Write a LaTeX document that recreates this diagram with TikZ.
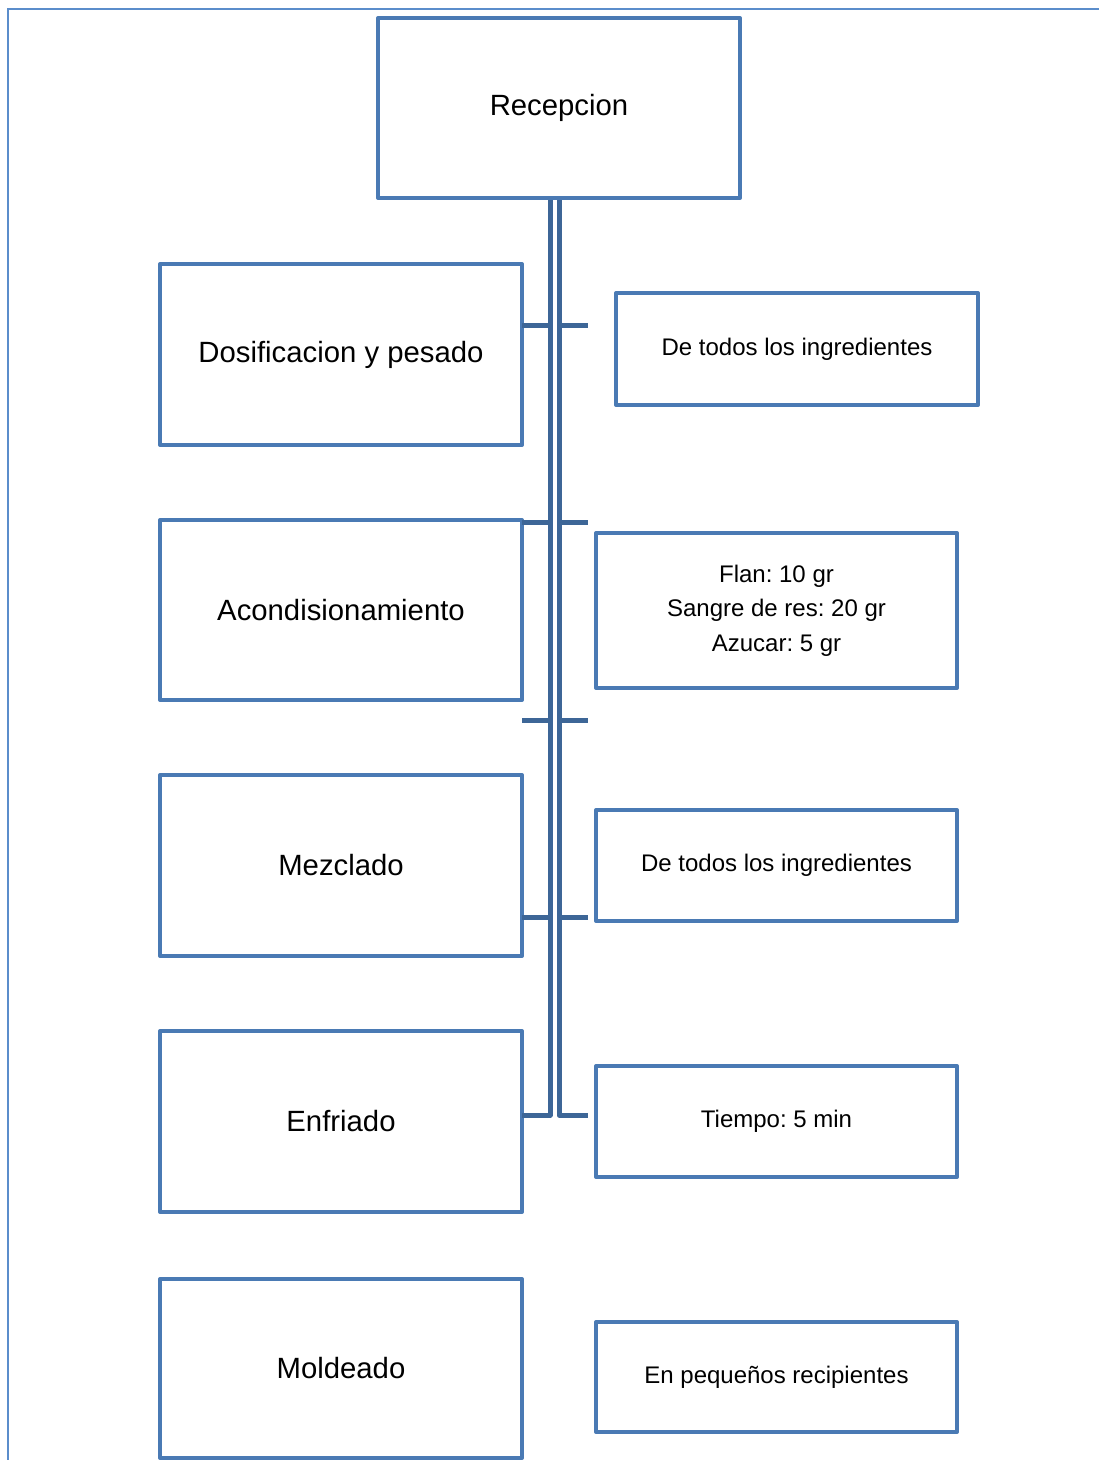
\documentclass[tikz,border=0pt]{standalone}
\usepackage{fontspec}
\setmainfont{Liberation Sans}
\usetikzlibrary{positioning,calc}
\definecolor{boxblue}{HTML}{4A7AB4}
\definecolor{lineblue}{HTML}{3D6697}
\definecolor{frameblue}{HTML}{5B8DCB}
\frenchspacing

\begin{document}
\begin{tikzpicture}[x=1pt, y=-1pt,
  stepbox/.style={draw=boxblue, line width=4pt, line join=round, inner sep=0pt,
    minimum width=362pt, minimum height=181pt, font=\fontsize{29.3}{35}\selectfont},
  notebox/.style={draw=boxblue, line width=4pt, line join=round, inner sep=0pt,
    minimum width=361pt, minimum height=111pt, align=center, font=\fontsize{24}{34.5}\selectfont},
  link/.style={draw=lineblue, line width=5pt, line join=round}]
  \useasboundingbox (0,0) rectangle (1099,1460);
  \draw[frameblue, line width=2pt] (8,1460) -- (8,9) -- (1099,9);

  % process steps
  \node[stepbox, minimum height=180pt] (rec) at (559,108) {Recepcion};
  \node[stepbox] (dos) at (341,354.5) {Dosificacion y pesado};
  \node[stepbox, minimum height=180pt] (aco) at (341,610) {Acondisionamiento};
  \node[stepbox] (mez) at (341,865.5) {Mezclado};
  \node[stepbox] (enf) at (341,1121.5) {Enfriado};
  \node[stepbox, minimum height=179pt] (mol) at (341,1368.5) {Moldeado};

  % notes
  \node[notebox, minimum width=362pt, minimum height=112pt] (ing1) at (797,349) {De todos los ingredientes};
  \node[notebox, minimum height=155pt] (cant) at (776.5,610.5) {Flan: 10 gr\\Sangre de res: 20 gr\\Azucar: 5 gr};
  \node[notebox] (ing2) at (776.5,865.5) {De todos los ingredientes};
  \node[notebox] (tiem) at (776.5,1121.5) {Tiempo: 5 min};
  \node[notebox, minimum height=110pt] (reci) at (776.5,1377) {En peque\~nos recipientes};

  % trunk
  \coordinate (endl) at (522,1115);
  \coordinate (endr) at (588,1115);
  \draw[link] ($(rec.south)+(-9,0)$) |- (endl);
  \draw[link] (rec.south) |- (endr);
  \foreach \y in {325,522,720,917} {
    \draw[link] (522,\y) -- (550,\y);
    \draw[link] (559,\y) -- (588,\y);
  }
\end{tikzpicture}
\end{document}
